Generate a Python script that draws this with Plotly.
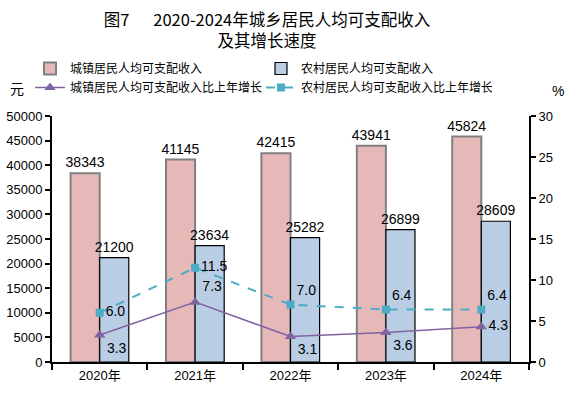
import plotly.graph_objects as go

years = ["2020年", "2021年", "2022年", "2023年", "2024年"]
urban_income = [38343, 41145, 42415, 43941, 45824]
rural_income = [21200, 23634, 25282, 26899, 28609]
urban_growth = [3.3, 7.3, 3.1, 3.6, 4.3]
rural_growth = [6.0, 11.5, 7.0, 6.4, 6.4]

urban_pos = ["bottom right", "top right", "bottom right", "bottom right", "middle right"]
rural_pos = ["middle right", "middle right", "top right", "top right", "top right"]

FONT = "Liberation Sans, Arial, Noto Sans CJK SC, sans-serif"
CJK = "Noto Sans CJK SC, sans-serif"

W, H = 577, 399
ML, MR, MT, MB = 52, 48, 116, 37
plot_w = W - ML - MR
plot_h = H - MT - MB

fig = go.Figure()
fig.add_trace(go.Bar(
    x=years, y=urban_income, name="城镇居民人均可支配收入",
    marker=dict(color="#E6B9B8", line=dict(color="#808080", width=2)),
    text=[str(v) for v in urban_income], textposition="outside",
    constraintext="none",
    textfont=dict(size=14, color="black", family=FONT), cliponaxis=False,
))
fig.add_trace(go.Bar(
    x=years, y=rural_income, name="农村居民人均可支配收入",
    marker=dict(color="#B9CDE5", line=dict(color="black", width=1.2)),
    text=[str(v) for v in rural_income], textposition="outside",
    constraintext="none",
    textfont=dict(size=14, color="black", family=FONT), cliponaxis=False,
))
fig.add_trace(go.Scatter(
    x=years, y=urban_growth, yaxis="y2", name="城镇居民人均可支配收入比上年增长",
    mode="lines+markers+text",
    line=dict(color="#8064A2", width=1.5),
    marker=dict(symbol="triangle-up", size=10, color="#8064A2"),
    text=[f"{v:.1f}" for v in urban_growth], textposition=urban_pos,
    textfont=dict(size=14, color="black", family=FONT), cliponaxis=False,
))
fig.add_trace(go.Scatter(
    x=years, y=rural_growth, yaxis="y2", name="农村居民人均可支配收入比上年增长",
    mode="lines+markers+text",
    line=dict(color="#4BACC6", width=2, dash="dash"),
    marker=dict(symbol="square", size=8, color="#4BACC6"),
    text=[f"{v:.1f}" for v in rural_growth], textposition=rural_pos,
    textfont=dict(size=14, color="black", family=FONT), cliponaxis=False,
))

fig.update_layout(
    width=W, height=H,
    margin=dict(l=ML, r=MR, t=MT, b=MB, autoexpand=False),
    paper_bgcolor="white", plot_bgcolor="white",
    font=dict(family=FONT, size=13, color="black"),
    barmode="group", bargap=0.39, bargroupgap=0,
    showlegend=True,
    title=dict(text="图7　  2020-2024年城乡居民人均可支配收入<br>及其增长速度",
               x=267/W, xanchor="center", xref="container",
               y=1-26/H, yanchor="top", yref="container",
               font=dict(size=16.5, family=CJK, color="black")),
    legend=dict(orientation="h", x=(30 - ML) / plot_w, xref="paper", xanchor="left",
                y=1 + (MT - 54) / plot_h, yref="paper", yanchor="top",
                entrywidth=186, font=dict(size=12, family=CJK),
                tracegroupgap=0, itemwidth=30, bgcolor="rgba(0,0,0,0)"),
    xaxis=dict(showline=True, linecolor="black", linewidth=2,
               ticks="outside", tickson="boundaries", ticklen=6, tickwidth=2,
               tickcolor="black", showgrid=False, automargin=False,
               tickfont=dict(size=13, family=FONT)),
    yaxis=dict(range=[0, 50000], dtick=5000, tickformat="d",
               showline=True, linecolor="black",
               linewidth=2, ticks="outside", ticklen=5, tickwidth=2,
               tickcolor="black", showgrid=False, zeroline=False, automargin=False,
               tickfont=dict(size=13, family=FONT)),
    yaxis2=dict(range=[0, 30], dtick=5, overlaying="y", side="right",
                showline=True, linecolor="black", linewidth=2, ticks="outside",
                ticklen=5, tickwidth=2, tickcolor="black", showgrid=False,
                zeroline=False, automargin=False,
                tickfont=dict(size=13, family=FONT)),
    annotations=[
        dict(text="元", x=(17 - ML) / plot_w, y=(H - MB - 88) / plot_h,
             xref="paper", yref="paper", xanchor="center", yanchor="middle",
             showarrow=False, font=dict(size=14, family=CJK)),
        dict(text="%", x=(558 - ML) / plot_w, y=(H - MB - 91) / plot_h,
             xref="paper", yref="paper", xanchor="center", yanchor="middle",
             showarrow=False, font=dict(size=14, family=FONT)),
    ],
)

fig.write_html("out.html", config={"displayModeBar": False},
               post_script="document.body.style.margin='0';document.body.style.overflow='hidden';")
